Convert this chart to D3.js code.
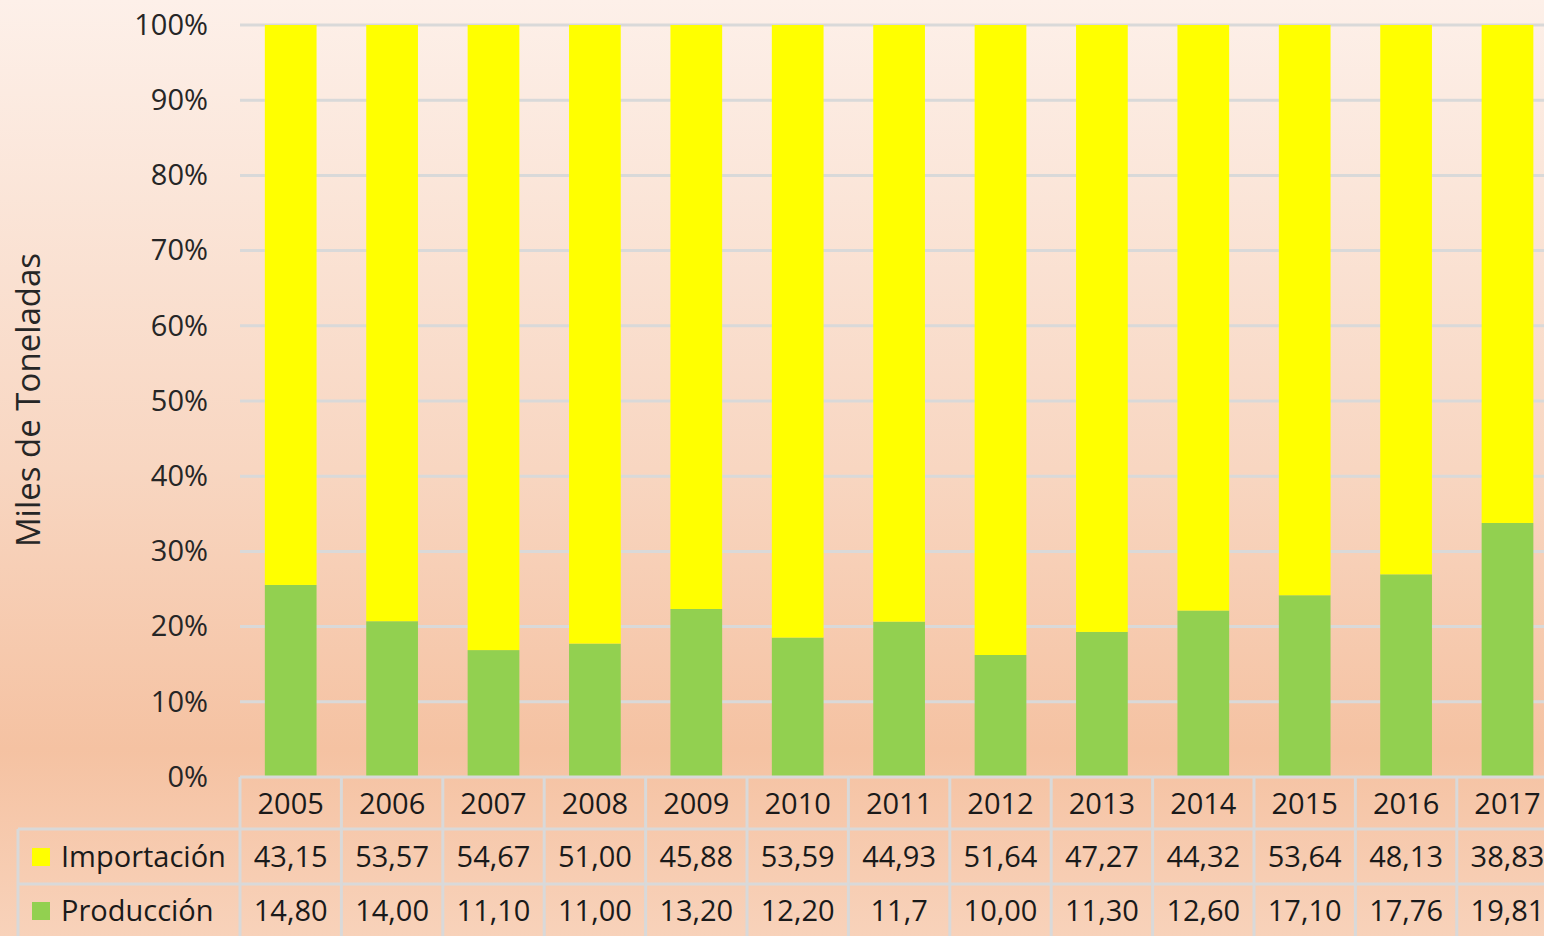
<!DOCTYPE html>
<html lang="es">
<head>
<meta charset="UTF-8">
<script src="https://d3js.org/d3.v7.min.js"></script>
<style>
  html, body { margin: 0; padding: 0; overflow: hidden; }
  svg { display: block; font-family: "Open Sans", "Noto Sans", sans-serif; }
</style>
<title>Importación y Producción</title>
</head>
<body>
<div id="chart"></div>
<script>
// data
var years = ["2005","2006","2007","2008","2009","2010","2011","2012","2013","2014","2015","2016","2017"];
var importacion = [43.15, 53.57, 54.67, 51.00, 45.88, 53.59, 44.93, 51.64, 47.27, 44.32, 53.64, 48.13, 38.83];
var produccion  = [14.80, 14.00, 11.10, 11.00, 13.20, 12.20, 11.7, 10.00, 11.30, 12.60, 17.10, 17.76, 19.81];
var produccionLabels = ["14,80","14,00","11,10","11,00","13,20","12,20","11,7","10,00","11,30","12,60","17,10","17,76","19,81"];
var yTicks = [0, 0.1, 0.2, 0.3, 0.4, 0.5, 0.6, 0.7, 0.8, 0.9, 1];

var W = 1544, H = 936;
var plotLeft = 240, plotTop = 25, plotBottom = 777;
var step = 101.4;
var plotRight = plotLeft + step * years.length;

var svg = d3.select("#chart").append("svg")
    .attr("width", W).attr("height", H);

var grad = svg.append("defs").append("linearGradient")
    .attr("id", "bg").attr("x1", 0).attr("y1", 0).attr("x2", 0).attr("y2", 1);
grad.append("stop").attr("offset", "0").attr("stop-color", "#fdf0e9");
grad.append("stop").attr("offset", "0.5").attr("stop-color", "#f8d6c1");
grad.append("stop").attr("offset", "0.8").attr("stop-color", "#f5c2a2");
grad.append("stop").attr("offset", "1").attr("stop-color", "#f8d2ba");

svg.append("rect").attr("width", W).attr("height", H).attr("fill", "url(#bg)");

var x = d3.scaleBand().domain(years).range([plotLeft, plotRight])
    .paddingInner(0.49).paddingOuter(0.245);
var y = d3.scaleLinear().domain([0, 1]).range([plotBottom, plotTop]);

// gridlines
svg.append("g").selectAll("line")
    .data(yTicks.slice(1))
    .join("line")
    .attr("x1", plotLeft).attr("x2", plotRight)
    .attr("y1", function (d) { return y(d); })
    .attr("y2", function (d) { return y(d); })
    .attr("stroke", "#d9d9d9").attr("stroke-width", 3);

// y axis labels
var yAxis = d3.axisLeft(y).tickValues(yTicks).tickFormat(d3.format(".0%")).tickSize(0).tickPadding(32);
var ya = svg.append("g").attr("transform", "translate(" + plotLeft + ",0)").call(yAxis);
ya.select(".domain").remove();
ya.selectAll("text").attr("font-size", 29).attr("fill", "#262626")
    .attr("font-family", "Open Sans");

// stacked bars (100%)
var rows = years.map(function (yr, i) {
    var t = importacion[i] + produccion[i];
    return { year: yr, prod: produccion[i] / t, imp: importacion[i] / t };
});

var bars = svg.append("g");
bars.selectAll("rect.prod").data(rows).join("rect").attr("class", "prod")
    .attr("x", function (d) { return x(d.year); })
    .attr("width", x.bandwidth())
    .attr("y", function (d) { return y(d.prod); })
    .attr("height", function (d) { return y(0) - y(d.prod); })
    .attr("fill", "#92d050");
bars.selectAll("rect.imp").data(rows).join("rect").attr("class", "imp")
    .attr("x", function (d) { return x(d.year); })
    .attr("width", x.bandwidth())
    .attr("y", function (d) { return y(d.prod + d.imp); })
    .attr("height", function (d) { return y(d.prod) - y(d.prod + d.imp); })
    .attr("fill", "#ffff00");

// y title
svg.append("text")
    .attr("transform", "translate(40,400) rotate(-90)")
    .attr("text-anchor", "middle")
    .attr("font-size", 33).attr("fill", "#262626")
    .text("Miles de Toneladas");

// data table
var tableLeft = 18, row1 = 829, row2 = 884, tableBottom = 960;
var grid = svg.append("g").attr("stroke", "#d9d9d9").attr("stroke-width", 3);
grid.append("line").attr("x1", plotLeft).attr("x2", plotRight).attr("y1", plotBottom).attr("y2", plotBottom);
grid.append("line").attr("x1", tableLeft).attr("x2", plotRight).attr("y1", row1).attr("y2", row1);
grid.append("line").attr("x1", tableLeft).attr("x2", plotRight).attr("y1", row2).attr("y2", row2);
grid.append("line").attr("x1", tableLeft).attr("x2", tableLeft).attr("y1", row1).attr("y2", tableBottom);
grid.selectAll("line.col").data(d3.range(years.length + 1)).join("line").attr("class", "col")
    .attr("x1", function (i) { return plotLeft + i * step; })
    .attr("x2", function (i) { return plotLeft + i * step; })
    .attr("y1", plotBottom).attr("y2", tableBottom);

var fmt = function (v) { return v.toFixed(2).replace(".", ","); };
var cx = function (yr) { return x(yr) + x.bandwidth() / 2; };

var tbl = svg.append("g").attr("font-size", 29).attr("fill", "#1a1a1a").attr("text-anchor", "middle");
tbl.selectAll("text.yr").data(years).join("text").attr("class", "yr")
    .attr("x", cx).attr("y", 814).text(function (d) { return d; });
tbl.selectAll("text.imp").data(years).join("text").attr("class", "imp")
    .attr("x", cx).attr("y", 867).text(function (d, i) { return fmt(importacion[i]); });
tbl.selectAll("text.prod").data(years).join("text").attr("class", "prod")
    .attr("x", cx).attr("y", 921).text(function (d, i) { return produccionLabels[i]; });

// legend keys
var legend = [
    { name: "Importación", color: "#ffff00", y: 867 },
    { name: "Producción", color: "#92d050", y: 921 }
];
var lg = svg.append("g").selectAll("g").data(legend).join("g");
lg.append("rect").attr("x", 32).attr("y", function (d) { return d.y - 19; })
    .attr("width", 18).attr("height", 18).attr("fill", function (d) { return d.color; });
lg.append("text").attr("x", 61).attr("y", function (d) { return d.y; })
    .attr("font-size", 29).attr("fill", "#1a1a1a").text(function (d) { return d.name; });
</script>
</body>
</html>
